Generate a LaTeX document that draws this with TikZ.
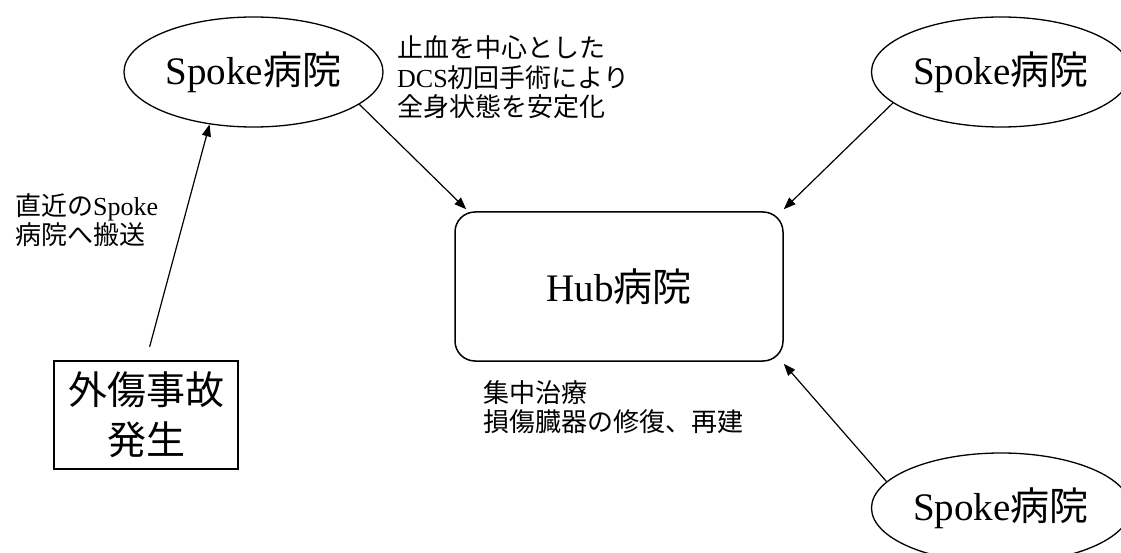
\documentclass[tikz,border=0pt]{standalone}
\usepackage{fontspec}
\setmainfont{Liberation Serif}
\newfontfamily\jp{Noto Sans CJK JP}
\usetikzlibrary{shapes.geometric,arrows.meta}
\begin{document}
\begin{tikzpicture}[x=1pt,y=-1pt,
  spoke/.style={draw,ellipse,line width=1.3pt,minimum width=259pt,minimum height=110pt,inner sep=0pt,font=\fontsize{39}{46}\selectfont},
  hubbox/.style={draw,rounded corners=20pt,line width=1.5pt,minimum width=328pt,minimum height=149pt,inner sep=0pt,font=\fontsize{39}{46}\selectfont},
  eventbox/.style={draw,line width=1.5pt,minimum width=184pt,minimum height=108pt,inner sep=0pt,align=center,font=\jp\fontsize{39}{50}\selectfont},
  note/.style={anchor=west,align=left,inner sep=0pt,font=\fontsize{26}{29.5}\selectfont},
  arr/.style={-{Triangle[length=12pt,width=9pt]},line width=1.2pt}]
\useasboundingbox (0,0) rectangle (1121,553);
\clip (0,0) rectangle (1121,553);
\node[spoke] (s1) at (253.5,72) {Spoke{\jp 病院}};
\node[spoke] (s2) at (1001,72) {Spoke{\jp 病院}};
\node[spoke] (s3) at (1001,508) {Spoke{\jp 病院}};
\node[hubbox] (hub) at (619,286.5) {Hub{\jp 病院}};
\node[eventbox] (ev) at (146,415) {\rule{0pt}{12pt}外傷事故\\発生};
\node[note] (n1) at (397,77.5) {{\jp 止血を中心とした}\\DCS{\jp 初回手術により}\\{\jp 全身状態を安定化}};
\node[note] (n2) at (15,220) {{\jp 直近の}Spoke\\{\jp 病院へ搬送}};
\node[note] (n3) at (483,407) {{\jp 集中治療}\\{\jp 損傷臓器の修復、再建}};
\draw[arr,shorten <=14pt] (ev.north) -- (s1.230);
\draw[arr] (s1.343) -- ([xshift=12pt,yshift=2pt]hub.north west);
\draw[arr] (s2.196) -- ([yshift=2pt]hub.north east);
\draw[arr] (s3.167) -- ([yshift=-2pt]hub.south east);
\end{tikzpicture}
\end{document}
